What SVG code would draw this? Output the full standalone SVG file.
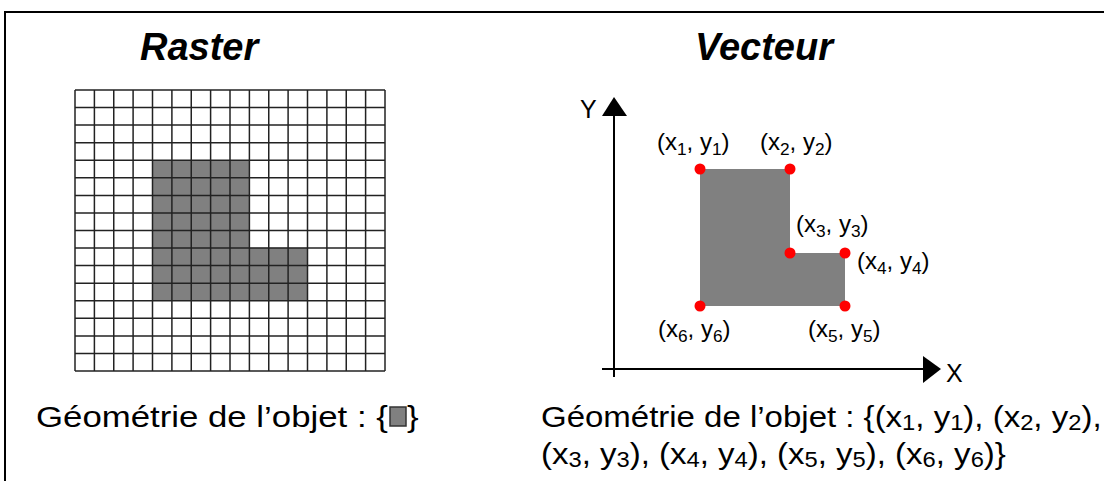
<svg xmlns="http://www.w3.org/2000/svg" width="1104" height="481" viewBox="0 0 1104 481">
<style>
.title{font-family:"Liberation Sans",Arial,sans-serif;font-weight:bold;font-style:italic;font-size:38px;fill:#000}
.body{font-family:"Liberation Sans",Arial,sans-serif;font-size:30px;fill:#000}
.lbl{font-family:"Liberation Sans",Arial,sans-serif;font-size:24px;fill:#000}
.axl{font-family:"Liberation Sans",Arial,sans-serif;font-size:25px;fill:#000}
.sub{font-size:0.72em}
.grid line{stroke:#222;stroke-width:1.5}
.axis{stroke:#000;stroke-width:2}
.pt{fill:#ff0000}
</style>
<rect width="1104" height="481" fill="#fff"/>
<path d="M5,481 V12 H1104" fill="none" stroke="#000" stroke-width="2"/>
<text class="title" x="140" y="60">Raster</text>
<text class="title" x="695" y="60">Vecteur</text>

<g id="raster">
<rect x="75" y="90" width="310" height="281" fill="#fff"/>
<path d="M152.5,160.25 H249.4 V247.8 H307.5 V300.7 H152.5 Z" fill="#808080"/>
<g class="grid">
<line x1="75" y1="90" x2="75" y2="371"/><line x1="94.4" y1="90" x2="94.4" y2="371"/><line x1="113.75" y1="90" x2="113.75" y2="371"/><line x1="133.1" y1="90" x2="133.1" y2="371"/><line x1="152.5" y1="90" x2="152.5" y2="371"/><line x1="171.9" y1="90" x2="171.9" y2="371"/><line x1="191.25" y1="90" x2="191.25" y2="371"/><line x1="210.6" y1="90" x2="210.6" y2="371"/><line x1="230" y1="90" x2="230" y2="371"/><line x1="249.4" y1="90" x2="249.4" y2="371"/><line x1="268.75" y1="90" x2="268.75" y2="371"/><line x1="288.1" y1="90" x2="288.1" y2="371"/><line x1="307.5" y1="90" x2="307.5" y2="371"/><line x1="326.9" y1="90" x2="326.9" y2="371"/><line x1="346.25" y1="90" x2="346.25" y2="371"/><line x1="365.6" y1="90" x2="365.6" y2="371"/><line x1="385" y1="90" x2="385" y2="371"/>
<line x1="75" y1="90" x2="385" y2="90"/><line x1="75" y1="107.6" x2="385" y2="107.6"/><line x1="75" y1="125.1" x2="385" y2="125.1"/><line x1="75" y1="142.7" x2="385" y2="142.7"/><line x1="75" y1="160.25" x2="385" y2="160.25"/><line x1="75" y1="177.8" x2="385" y2="177.8"/><line x1="75" y1="195.4" x2="385" y2="195.4"/><line x1="75" y1="212.9" x2="385" y2="212.9"/><line x1="75" y1="230.5" x2="385" y2="230.5"/><line x1="75" y1="248.1" x2="385" y2="248.1"/><line x1="75" y1="265.6" x2="385" y2="265.6"/><line x1="75" y1="283.2" x2="385" y2="283.2"/><line x1="75" y1="300.75" x2="385" y2="300.75"/><line x1="75" y1="318.3" x2="385" y2="318.3"/><line x1="75" y1="335.9" x2="385" y2="335.9"/><line x1="75" y1="353.4" x2="385" y2="353.4"/><line x1="75" y1="371" x2="385" y2="371"/>
</g>
</g>

<g id="vector">
<g id="connectors">
<line class="axis" x1="614" y1="114" x2="614" y2="377"/>
<polygon points="614,97 602,116 627,116" fill="#000"/>
<line class="axis" x1="602" y1="369" x2="925" y2="369"/>
<polygon points="923,356 941,369 923,383" fill="#000"/>
</g>
<text class="axl" x="580" y="118">Y</text>
<text class="axl" x="946" y="382">X</text>
<g id="shape">
<polygon points="700,169 790,169 790,253 845,253 845,306 700,306" fill="#808080"/>
<circle class="pt" cx="700" cy="169" r="5.5"/>
<circle class="pt" cx="790" cy="169" r="5.5"/>
<circle class="pt" cx="790" cy="253" r="5.5"/>
<circle class="pt" cx="845" cy="253" r="5.5"/>
<circle class="pt" cx="845" cy="306" r="5.5"/>
<circle class="pt" cx="700" cy="306" r="5.5"/>
</g>
<text class="lbl" x="657" y="150">(x<tspan class="sub" dy="5">1</tspan><tspan dy="-5">, y</tspan><tspan class="sub" dy="5">1</tspan><tspan dy="-5">)</tspan></text>
<text class="lbl" x="760" y="150">(x<tspan class="sub" dy="5">2</tspan><tspan dy="-5">, y</tspan><tspan class="sub" dy="5">2</tspan><tspan dy="-5">)</tspan></text>
<text class="lbl" x="796" y="232">(x<tspan class="sub" dy="5">3</tspan><tspan dy="-5">, y</tspan><tspan class="sub" dy="5">3</tspan><tspan dy="-5">)</tspan></text>
<text class="lbl" x="857" y="269">(x<tspan class="sub" dy="5">4</tspan><tspan dy="-5">, y</tspan><tspan class="sub" dy="5">4</tspan><tspan dy="-5">)</tspan></text>
<text class="lbl" x="808" y="337">(x<tspan class="sub" dy="5">5</tspan><tspan dy="-5">, y</tspan><tspan class="sub" dy="5">5</tspan><tspan dy="-5">)</tspan></text>
<text class="lbl" x="658" y="337">(x<tspan class="sub" dy="5">6</tspan><tspan dy="-5">, y</tspan><tspan class="sub" dy="5">6</tspan><tspan dy="-5">)</tspan></text>
</g>

<g id="captions">
<text class="body" transform="matrix(1.16 0 0 1 36 427)">Géométrie de l’objet : {</text>
<rect x="390" y="407" width="16" height="19" fill="#808080" stroke="#333" stroke-width="1.5"/>
<text class="body" transform="matrix(1.16 0 0 1 407 427)">}</text>
<text class="body" transform="matrix(1.1 0 0 1 541 427)">Géométrie de l’objet : {(x<tspan class="sub" dy="3">1</tspan><tspan dy="-3">, y</tspan><tspan class="sub" dy="3">1</tspan><tspan dy="-3">), (x</tspan><tspan class="sub" dy="3">2</tspan><tspan dy="-3">, y</tspan><tspan class="sub" dy="3">2</tspan><tspan dy="-3">),</tspan></text>
<text class="body" transform="matrix(1.1 0 0 1 541 464)">(x<tspan class="sub" dy="3">3</tspan><tspan dy="-3">, y</tspan><tspan class="sub" dy="3">3</tspan><tspan dy="-3">), (x</tspan><tspan class="sub" dy="3">4</tspan><tspan dy="-3">, y</tspan><tspan class="sub" dy="3">4</tspan><tspan dy="-3">), (x</tspan><tspan class="sub" dy="3">5</tspan><tspan dy="-3">, y</tspan><tspan class="sub" dy="3">5</tspan><tspan dy="-3">), (x</tspan><tspan class="sub" dy="3">6</tspan><tspan dy="-3">, y</tspan><tspan class="sub" dy="3">6</tspan><tspan dy="-3">)}</tspan></text>
</g>
</svg>
